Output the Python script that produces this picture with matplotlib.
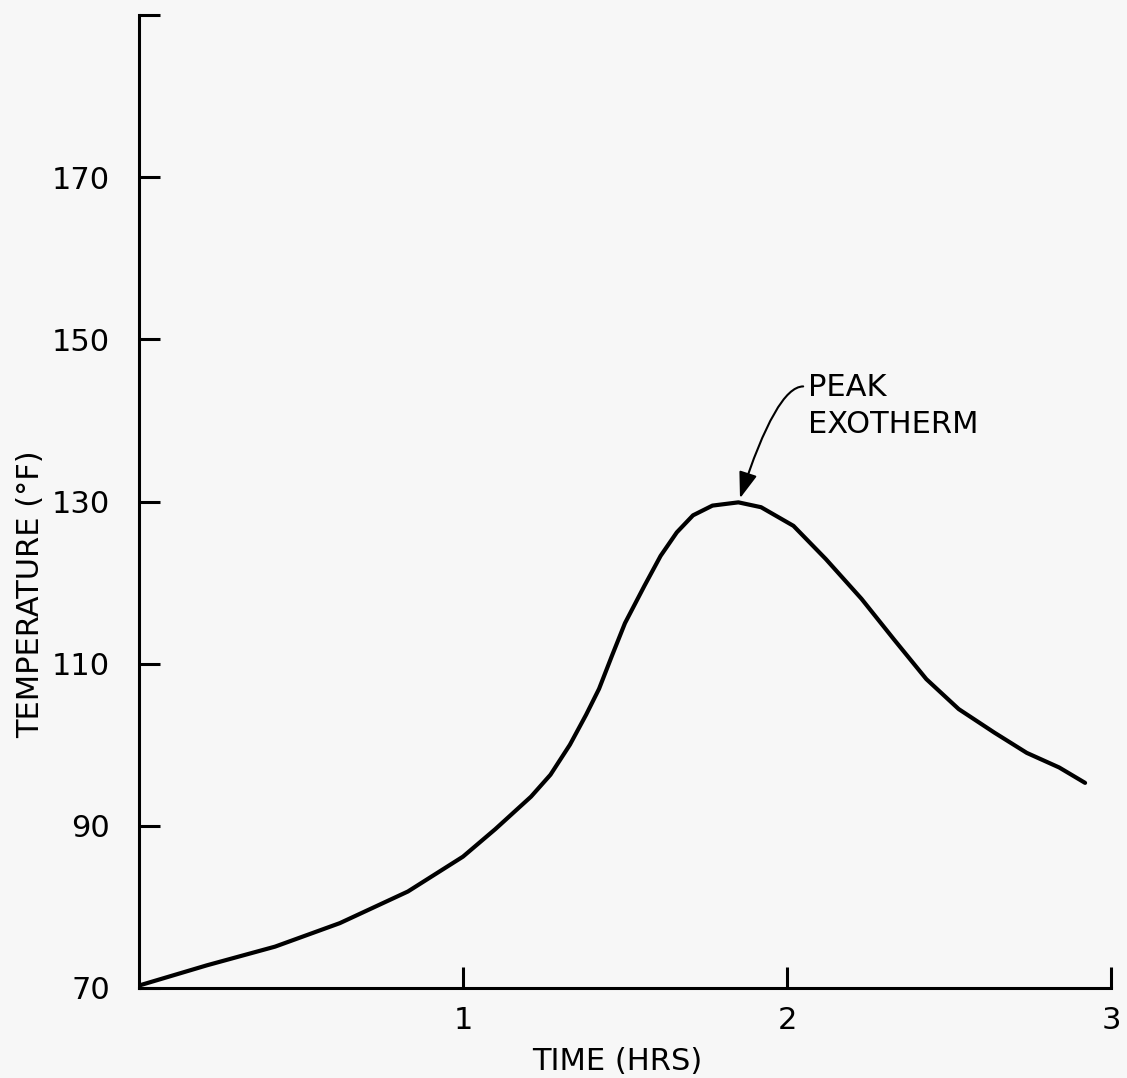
import matplotlib
matplotlib.use("Agg")
import matplotlib.pyplot as plt

# curve (hours, deg F)
time_hrs = [0.00, 0.21, 0.42, 0.62, 0.83, 1.00, 1.10, 1.21, 1.27, 1.33,
            1.38, 1.42, 1.46, 1.50, 1.56, 1.61, 1.66, 1.71, 1.77, 1.85,
            1.92, 2.02, 2.12, 2.23, 2.33, 2.43, 2.53, 2.64, 2.74, 2.84, 2.92]
temp_f = [70.3, 72.8, 75.1, 78.0, 81.9, 86.2, 89.6, 93.6, 96.3, 100.0,
          103.7, 106.9, 111.0, 115.0, 119.6, 123.3, 126.2, 128.3, 129.5, 129.9,
          129.3, 127.0, 122.9, 118.0, 113.0, 108.1, 104.4, 101.5, 99.0, 97.2, 95.3]

x_ticks = [1, 2, 3]
y_ticks = [70, 90, 110, 130, 150, 170, 190]
y_tick_labels = ["70", "90", "110", "130", "150", "170", ""]

peak_xy = (1.855, 130.4)
label_xy = (2.05, 144.2)

bg = "#f7f7f7"
fig = plt.figure(figsize=(11.27, 10.78), dpi=100, facecolor=bg)
ax = fig.add_axes([0.1233, 0.0835, 0.8625, 0.9025])
ax.set_facecolor(bg)

ax.plot(time_hrs, temp_f, color="black", linewidth=3.0,
        solid_joinstyle="round", solid_capstyle="round")

ax.set_xlim(0, 3)
ax.set_ylim(70, 190)
for side in ["top", "right"]:
    ax.spines[side].set_visible(False)
for side in ["left", "bottom"]:
    ax.spines[side].set_linewidth(2.2)

ax.set_xticks(x_ticks)
ax.set_yticks(y_ticks)
ax.set_yticklabels(y_tick_labels)
ax.tick_params(axis="both", direction="in", length=15, width=2.2, labelsize=22)
ax.tick_params(axis="x", pad=13)
ax.tick_params(axis="y", pad=21)

ax.set_xlabel("TIME (HRS)", fontsize=22)
ax.set_ylabel("TEMPERATURE (°F)", fontsize=22)
ax.xaxis.set_label_coords(0.492, -0.061)
ax.yaxis.set_label_coords(-0.097, 0.405)

ax.text(2.065, 145.9, "PEAK\nEXOTHERM", fontsize=22, va="top", ha="left",
        linespacing=1.37)
ax.annotate("", xy=peak_xy, xytext=label_xy,
            arrowprops=dict(arrowstyle="-|>,head_length=0.8,head_width=0.28",
                            connectionstyle="angle3,angleA=0,angleB=72",
                            color="black", lw=1.5, mutation_scale=20,
                            shrinkA=0, shrinkB=0))

fig.savefig("out.png", dpi=100, facecolor=bg)
